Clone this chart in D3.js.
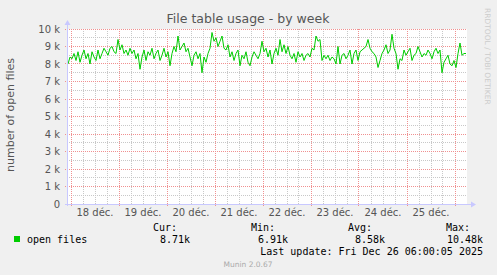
<!DOCTYPE html>
<html><head><meta charset="utf-8">
<script src="https://cdn.jsdelivr.net/npm/d3@7"></script>
<style>html,body{margin:0;padding:0;background:#F0F0F0;}svg{display:block;}</style>
</head><body>
<script>
const title = "File table usage - by week";
const yLabel = "number of open files";
const yTicks = [0,1000,2000,3000,4000,5000,6000,7000,8000,9000,10000];
const yTickLabels = ["0","1 k","2 k","3 k","4 k","5 k","6 k","7 k","8 k","9 k","10 k"];
const dayLabels = ["18 déc.","19 déc.","20 déc.","21 déc.","22 déc.","23 déc.","24 déc.","25 déc."];
const seriesName = "open files";
const statHeaders = ["Cur:","Min:","Avg:","Max:"];
const statValues = ["8.71k","6.91k","8.58k","10.48k"];
const lastUpdate = "Last update: Fri Dec 26 06:00:05 2025";
// hourly values (thousands), starting Dec 17 22:30
const openFiles = [
8.0,8.4,8.3,8.6,8.2,8.7,8.1,8.5,8.8,8.3,
8.6,8.0,8.7,8.4,8.2,8.8,8.3,8.6,8.9,8.7,
8.5,8.9,9.0,8.7,8.6,9.4,8.8,9.1,8.6,8.8,
8.5,8.9,8.6,8.8,8.3,8.6,7.7,8.4,8.8,8.2,
8.7,8.5,8.9,8.3,8.6,8.8,8.2,8.5,8.9,8.4,
8.7,7.9,8.6,9.0,8.7,9.6,8.8,9.0,9.2,8.7,
8.9,8.4,7.9,8.5,8.7,8.3,8.6,7.5,8.4,8.1,
8.6,8.9,9.8,9.3,9.5,9.0,9.3,9.6,8.9,8.8,
9.1,8.4,8.7,8.2,8.6,8.8,7.9,8.5,8.3,8.7,
8.1,7.9,8.4,8.7,8.5,8.3,8.6,9.3,8.7,8.9,
8.4,8.8,8.0,8.6,8.9,8.5,9.4,8.7,9.1,8.6,
9.0,8.5,8.3,8.6,8.1,8.7,8.4,8.6,8.2,8.5,
8.6,8.4,8.9,8.8,9.6,9.3,9.4,8.2,8.5,8.3,
8.5,8.2,8.4,8.3,8.0,9.0,8.0,8.5,8.6,8.3,
8.5,8.8,8.0,8.6,8.8,8.2,8.7,8.8,8.9,9.0,
9.4,8.9,8.7,8.6,8.4,7.8,8.2,8.6,8.8,9.1,
8.6,8.8,9.7,8.9,8.6,7.7,8.3,8.2,8.8,8.5,
8.7,8.9,8.2,8.5,8.6,9.0,8.7,8.4,8.6,8.5,
8.8,8.6,8.3,8.7,8.9,8.6,8.8,7.5,8.1,8.3,
8.5,8.0,7.9,8.2,7.8,8.6,9.2,8.5,8.6,8.6
];

const W = 497, H = 275;
const L = 67, R = 467, T = 29, B = 204;
const tStart = new Date(2025, 11, 17, 22, 0);
const tEnd = new Date(2025, 11, 26, 6, 0);
const data = openFiles.map((v, i) => ({t: new Date(tStart.getTime() + (i + 0.5) * 3600e3), v: v * 1000}));

const svg = d3.select("body").append("svg").attr("width", W).attr("height", H);
svg.append("rect").attr("width", W).attr("height", H).attr("fill", "#F0F0F0");

const x = d3.scaleTime().domain([tStart, tEnd]).range([L, R]);
const y = d3.scaleLinear().domain([0, 10000]).range([B, T]);

svg.append("rect").attr("x", L).attr("y", T).attr("width", R - L).attr("height", B - T).attr("fill", "#FFFFFF");

const px = v => Math.floor(v) + 0.5;
const g = svg.append("g");
// minor grid
const minorX = d3.timeHour.every(6).range(tStart, tEnd);
g.selectAll(".mx").data(minorX).join("line")
  .attr("x1", d => px(x(d))).attr("x2", d => px(x(d)))
  .attr("y1", T).attr("y2", B).attr("stroke", "#C8C8C8").attr("stroke-width", 1).attr("stroke-dasharray", "1,1");
const minorY = d3.range(500, 10000, 1000);
g.selectAll(".my").data(minorY).join("line")
  .attr("x1", L).attr("x2", R).attr("y1", d => px(y(d))).attr("y2", d => px(y(d)))
  .attr("stroke", "#C8C8C8").attr("stroke-width", 1).attr("stroke-dasharray", "1,1");
// major grid
const days = d3.timeDay.every(1).range(new Date(2025, 11, 18), tEnd);
g.selectAll(".Mx").data(days).join("line")
  .attr("x1", d => px(x(d))).attr("x2", d => px(x(d)))
  .attr("y1", T).attr("y2", B + 2).attr("stroke", "#F09090").attr("stroke-width", 1).attr("stroke-dasharray", "1,1");
g.selectAll(".My").data(yTicks.slice(1)).join("line")
  .attr("x1", L - 2).attr("x2", R).attr("y1", d => px(y(d))).attr("y2", d => px(y(d)))
  .attr("stroke", "#F09090").attr("stroke-width", 1).attr("stroke-dasharray", "1,1");

// line
const line = d3.line().x(d => x(d.t)).y(d => y(d.v));
svg.append("path").datum(data).attr("d", line).attr("fill", "none")
  .attr("stroke", "#00CC00").attr("stroke-width", 1);

// axes
const ax = svg.append("g").attr("shape-rendering", "crispEdges");
ax.append("line").attr("x1", L + 0.5).attr("x2", L + 0.5).attr("y1", B + 2).attr("y2", T - 5).attr("stroke", "#C8C8FF");
ax.append("line").attr("x1", L - 2).attr("x2", R + 5).attr("y1", B + 0.5).attr("y2", B + 0.5).attr("stroke", "#C8C8FF");
svg.append("path").attr("d", `M${L - 2.5},${T - 4} L${L + 3.5},${T - 4} L${L + 0.5},${T - 9} Z`).attr("fill", "#C8C8FF");
svg.append("path").attr("d", `M${R + 4},${B - 2.5} L${R + 4},${B + 3.5} L${R + 9},${B + 0.5} Z`).attr("fill", "#C8C8FF");

const font = "DejaVu Sans, sans-serif";
// y tick labels
svg.selectAll(".yl").data(yTicks).join("text")
  .attr("x", 60).attr("y", d => y(d) + 3.5).attr("text-anchor", "end")
  .attr("font-family", font).attr("font-size", 10).attr("fill", "#555555")
  .text((d, i) => yTickLabels[i]);
// x day labels
svg.selectAll(".xl").data(days.slice(0, dayLabels.length)).join("text")
  .attr("x", d => x(d3.timeHour.offset(d, 12))).attr("y", 216).attr("text-anchor", "middle")
  .attr("font-family", font).attr("font-size", 10).attr("fill", "#555555")
  .text((d, i) => dayLabels[i]);

// title
svg.append("text").attr("x", 248).attr("y", 23).attr("text-anchor", "middle")
  .attr("font-family", font).attr("font-size", 12.5).attr("fill", "#555555").text(title);
// y label
svg.append("text").attr("transform", `translate(14,${115}) rotate(-90)`).attr("text-anchor", "middle")
  .attr("font-family", font).attr("font-size", 11).attr("fill", "#555555").text(yLabel);
// rrdtool credit
svg.append("text").attr("transform", `translate(485,8) rotate(90)`).attr("text-anchor", "start")
  .attr("font-family", font).attr("font-size", 7.5).attr("fill", "#CCCCCC").text("RRDTOOL / TOBI OETIKER");

// legend
const mono = "DejaVu Sans Mono, monospace";
svg.append("rect").attr("x", 14).attr("y", 236).attr("width", 6).attr("height", 6).attr("fill", "#00CC00");
svg.append("text").attr("x", 27).attr("y", 243).attr("font-family", mono).attr("font-size", 10).attr("fill", "#000").text(seriesName);
const headEnds = [177, 275, 372, 470];
const valEnds = [190, 288, 385, 483];
svg.selectAll(".sh").data(statHeaders).join("text")
  .attr("x", (d, i) => headEnds[i]).attr("y", 231).attr("text-anchor", "end")
  .attr("font-family", mono).attr("font-size", 10).attr("fill", "#000").text(d => d);
svg.selectAll(".sv").data(statValues).join("text")
  .attr("x", (d, i) => valEnds[i]).attr("y", 243).attr("text-anchor", "end")
  .attr("font-family", mono).attr("font-size", 10).attr("fill", "#000").text(d => d);
svg.append("text").attr("x", 483).attr("y", 255).attr("text-anchor", "end")
  .attr("font-family", mono).attr("font-size", 10).attr("fill", "#000").text(lastUpdate);
svg.append("text").attr("x", 248).attr("y", 267).attr("text-anchor", "middle")
  .attr("font-family", font).attr("font-size", 7.5).attr("fill", "#AAAAAA").text("Munin 2.0.67");
</script>
</body></html>
